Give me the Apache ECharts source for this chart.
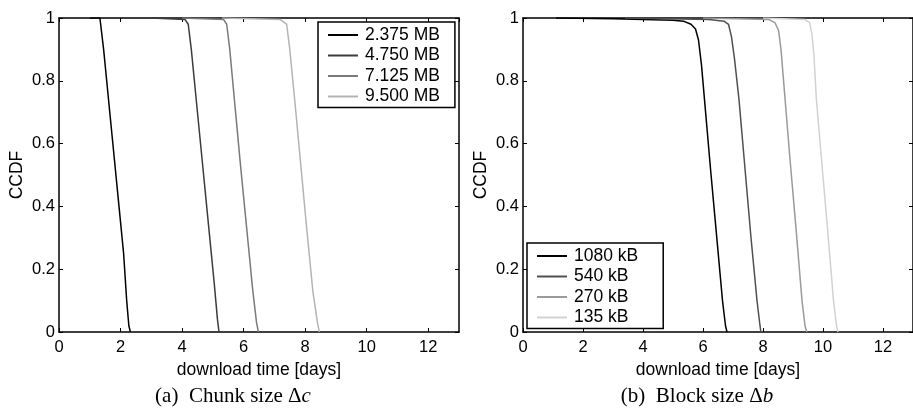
<!DOCTYPE html>
<html>
<head>
<meta charset="utf-8">
<script src="https://cdn.jsdelivr.net/npm/echarts@6/dist/echarts.min.js"></script>
<style>
html, body { margin: 0; padding: 0; background: #fff; }
#chart { width: 913px; height: 410px; }
</style>
</head>
<body>
<div id="chart"></div>
<script>
// (a) chunk size - [download time (days), CCDF]
var chunkNames = ['2.375 MB', '4.750 MB', '7.125 MB', '9.500 MB'];
var chunk2375 = [[1.0,1],[1.33,1],[1.45,0.9],[1.55,0.8],[1.65,0.7],[1.8,0.55],[1.95,0.4],[2.1,0.25],[2.2,0.1],[2.27,0.02],[2.32,0]];
var chunk4750 = [[3.0,1],[4.1,0.995],[4.2,0.98],[4.3,0.9],[4.45,0.75],[4.65,0.55],[4.85,0.35],[5.05,0.15],[5.15,0.04],[5.2,0]];
var chunk7125 = [[4.0,1],[5.35,0.995],[5.45,0.98],[5.55,0.9],[5.7,0.74],[5.9,0.53],[6.1,0.33],[6.3,0.13],[6.42,0.03],[6.48,0]];
var chunk9500 = [[5.3,1],[7.2,0.995],[7.4,0.98],[7.5,0.9],[7.65,0.75],[7.85,0.54],[8.05,0.33],[8.25,0.13],[8.4,0.03],[8.46,0]];

// (b) block size
var blockNames = ['1080 kB', '540 kB', '270 kB', '135 kB'];
var block1080 = [[1.1,1],[3.0,0.998],[5.0,0.993],[5.35,0.99],[5.6,0.98],[5.75,0.965],[5.85,0.93],[5.95,0.85],[6.05,0.74],[6.25,0.52],[6.45,0.31],[6.65,0.1],[6.75,0.02],[6.8,0]];
var block540 = [[3.4,1],[6.2,0.995],[6.7,0.99],[6.85,0.98],[6.95,0.94],[7.05,0.87],[7.2,0.74],[7.4,0.52],[7.6,0.3],[7.8,0.1],[7.9,0.02],[7.93,0]];
var block270 = [[6.0,1],[8.2,0.995],[8.4,0.985],[8.52,0.96],[8.6,0.9],[8.72,0.76],[8.9,0.55],[9.1,0.33],[9.3,0.1],[9.4,0.02],[9.46,0]];
var block135 = [[8.0,1],[9.4,0.995],[9.55,0.985],[9.63,0.95],[9.7,0.88],[9.78,0.74],[9.95,0.55],[10.15,0.33],[10.35,0.1],[10.45,0.02],[10.5,0]];

var xMin = 0, xMax = 13, xStep = 2;
var yMin = 0, yMax = 1, yStep = 0.2;

var chunkColors = ['#000000', '#3c3c3c', '#7a7a7a', '#b4b4b4'];
var blockColors = ['#000000', '#505050', '#9a9a9a', '#d2d2d2'];

var font = 'Liberation Sans, Arial, sans-serif';
var chart = echarts.init(document.getElementById('chart'));

function xAx(grid, top) {
    return {
        type: 'value', gridIndex: grid, min: xMin, max: xMax, interval: xStep,
        position: top ? 'top' : 'bottom',
        name: top ? '' : 'download time [days]',
        nameLocation: 'middle', nameGap: 21,
        nameTextStyle: { color: '#000', fontSize: 17.5, fontFamily: font },
        axisLine: { show: true, onZero: false, lineStyle: { color: '#000', width: 1.5 } },
        axisTick: { show: true, inside: true, length: 4, lineStyle: { color: '#000' } },
        axisLabel: { show: !top, color: '#000', fontSize: 16.5, fontFamily: font, margin: 7, showMaxLabel: false },
        splitLine: { show: false }
    };
}
function yAx(grid, right) {
    return {
        type: 'value', gridIndex: grid, min: yMin, max: yMax, interval: yStep,
        position: right ? 'right' : 'left',
        name: right ? '' : 'CCDF',
        nameLocation: 'middle', nameGap: 33,
        nameTextStyle: { color: '#000', fontSize: 17.5, fontFamily: font },
        axisLine: { show: true, onZero: false, lineStyle: { color: '#000', width: 1.5 } },
        axisTick: { show: true, inside: true, length: 4, lineStyle: { color: '#000' } },
        axisLabel: { show: !right, color: '#000', fontSize: 16.5, fontFamily: font, margin: 4 },
        splitLine: { show: false }
    };
}
function line(name, data, color, grid) {
    return {
        name: name, type: 'line', xAxisIndex: grid * 2, yAxisIndex: grid * 2,
        data: data, showSymbol: false, symbol: 'none',
        lineStyle: { color: color, width: 1.5 }, itemStyle: { color: color },
        z: 3
    };
}
function legendBox(names, left, top, padRight) {
    return {
        data: names, orient: 'vertical', left: left, top: top,
        icon: 'rect', itemWidth: 30, itemHeight: 2, itemGap: 2.5,
        selectedMode: false,
        padding: [4, padRight, 2, 10],
        borderColor: '#000', borderWidth: 1.5, backgroundColor: '#fff',
        textStyle: { color: '#000', fontSize: 17.5, fontFamily: font, lineHeight: 16, padding: [0, 0, 0, 2] }
    };
}

var option = {
    animation: false,
    backgroundColor: '#fff',
    grid: [
        { left: 59, top: 18, width: 400, height: 314 },
        { left: 523, top: 18, width: 400, height: 314 }
    ],
    xAxis: [xAx(0, false), xAx(0, true), xAx(1, false), xAx(1, true)],
    yAxis: [yAx(0, false), yAx(0, true), yAx(1, false), yAx(1, true)],
    legend: [legendBox(chunkNames, 318, 22, 15), legendBox(blockNames, 527, 243, 25)],
    series: [
        line(chunkNames[0], chunk2375, chunkColors[0], 0),
        line(chunkNames[1], chunk4750, chunkColors[1], 0),
        line(chunkNames[2], chunk7125, chunkColors[2], 0),
        line(chunkNames[3], chunk9500, chunkColors[3], 0),
        line(blockNames[0], block1080, blockColors[0], 1),
        line(blockNames[1], block540, blockColors[1], 1),
        line(blockNames[2], block270, blockColors[2], 1),
        line(blockNames[3], block135, blockColors[3], 1)
    ],
    graphic: [
        { type: 'text',
          style: { text: '(a)  Chunk size Δ{i|c}', x: 233, y: 396, align: 'center', verticalAlign: 'middle',
                   font: '21px "Liberation Serif", "Times New Roman", serif', fill: '#000',
                   rich: { i: { fontStyle: 'italic', fontSize: 21, fontFamily: 'Liberation Serif' } } } },
        { type: 'text',
          style: { text: '(b)  Block size Δ{i|b}', x: 697, y: 396, align: 'center', verticalAlign: 'middle',
                   font: '21px "Liberation Serif", "Times New Roman", serif', fill: '#000',
                   rich: { i: { fontStyle: 'italic', fontSize: 21, fontFamily: 'Liberation Serif' } } } }
    ]
};
chart.setOption(option);
</script>
</body>
</html>
